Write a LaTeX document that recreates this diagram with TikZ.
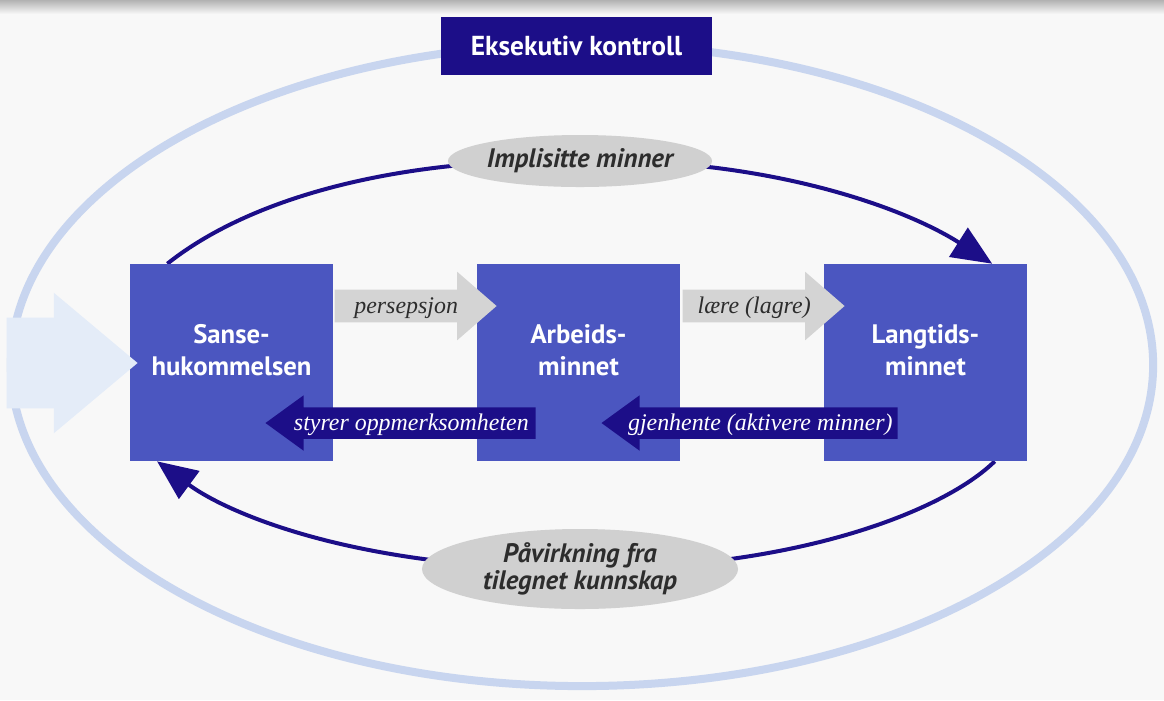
\documentclass[tikz,border=0pt]{standalone}
\usepackage{fontspec}
\setmainfont{Liberation Serif}
\newfontfamily\boxfont{PT Sans}
\usetikzlibrary{arrows.meta, positioning, shapes.geometric, shapes.arrows}

\definecolor{bgpaper}{RGB}{248,248,248}
\definecolor{ringblue}{RGB}{200,213,239}
\definecolor{boxblue}{RGB}{75,86,192}
\definecolor{navy}{RGB}{28,14,136}
\definecolor{arrowgray}{RGB}{212,212,212}
\definecolor{ovalgray}{RGB}{208,208,208}
\definecolor{inblue}{RGB}{228,236,248}
\definecolor{inkgray}{RGB}{45,45,45}

\pgfdeclarelayer{back}
\pgfsetlayers{back,main}

\tikzset{
	memorybox/.style={rectangle, fill=boxblue, minimum width=5.075cm, minimum height=4.925cm, inner sep=0pt},
	boxlabel/.style={text=white, align=center, inner sep=0pt, font=\boxfont\bfseries\fontsize{19}{23}\selectfont},
	forwardarrow/.style={single arrow, fill=arrowgray, text=inkgray, font=\itshape\fontsize{17}{20}\selectfont, single arrow head extend=0.45cm, single arrow tip angle=82, minimum height=4.05cm, inner xsep=3pt, inner ysep=4.4pt, text height=12pt, text depth=2pt, anchor=tip},
	backarrow/.style={single arrow, shape border rotate=180, fill=navy, text=white, font=\itshape\fontsize{17}{20}\selectfont, single arrow head extend=0.3cm, single arrow tip angle=72, inner xsep=2pt, inner ysep=4pt, text height=12pt, text depth=2pt, anchor=tip},
	oval/.style={ellipse, fill=ovalgray, inner sep=0pt, text=inkgray, align=center, font=\boxfont\bfseries\itshape\fontsize{19}{19.5}\selectfont},
	loopline/.style={draw=navy, line width=0.1cm, -{Triangle[length=1cm, width=0.85cm]}},
}

\begin{document}
\begin{tikzpicture}[x=0.025cm, y=-0.025cm]
	\useasboundingbox (0,0) rectangle (1164,700);
	% ring and title
	\draw[ringblue, line width=0.2cm] (582,365) ellipse [x radius=14.275cm, y radius=8.025cm];
	\node[rectangle, fill=navy, minimum width=6.775cm, minimum height=1.45cm, text=white, font=\boxfont\bfseries\fontsize{19.5}{20}\selectfont](eksek) at (576.5, 46){Eksekutiv kontroll};
	% the three stores
	\node[memorybox](sanse) at (231.5, 362.5){};
	\node[memorybox](arbeid) at (578.5, 362.5){};
	\node[memorybox](langtid) at (925.5, 362.5){};
	\node[boxlabel](sansetxt) at (231.5, 350){Sanse-\\hukommelsen};
	\node[boxlabel](arbeidtxt) at (578.5, 350){Arbeids-\\minnet};
	\node[boxlabel](langtidtxt) at (925.5, 350){Langtids-\\minnet};
	\node[single arrow, fill=inblue, single arrow head extend=0.625cm, single arrow tip angle=80, minimum height=3.275cm, inner xsep=0pt, inner ysep=1.125cm, anchor=tip](inn) at (138, 363){};
	% block arrows
	\node[forwardarrow](persep) at (497, 306){persepsjon};
	\node[forwardarrow](laere) at (845, 306){lære (lagre)};
	\node[backarrow, minimum height=6.75cm](styrer) at (265, 423){styrer oppmerksomheten};
	\node[backarrow, minimum height=7.4cm](gjenh) at (601, 423){gjenhente (aktivere minner)};
	% ovals on the loop
	\node[oval, minimum width=6.6cm, minimum height=1.3cm](impl) at (580, 161){Implisitte minner};
	\node[oval, minimum width=7.9cm, minimum height=2cm](paavirk) at (580, 569){Påvirkning fra\\tilegnet kunnskap};
	\begin{pgfonlayer}{back}
		\fill[bgpaper] (0,0) rectangle (1164,700);
		\shade[top color=black!30, bottom color=bgpaper] (0,0) rectangle (1164,14);
		\draw[loopline] (sanse.123) .. controls (260,190) and (420,157) .. (impl.center) .. controls (760,157) and (900,205) .. (langtid.56);
		\draw[loopline] (langtid.-55) .. controls (945,510) and (800,569) .. (paavirk.center) .. controls (360,569) and (230,515) .. (sanse.-127);
	\end{pgfonlayer}
\end{tikzpicture}
\end{document}
